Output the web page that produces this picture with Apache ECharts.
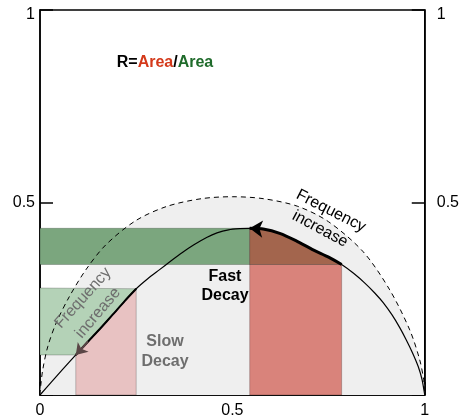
<!DOCTYPE html>
<html>
<head>
<meta charset="utf-8">
<script src="https://cdn.jsdelivr.net/npm/echarts@6/dist/echarts.min.js"></script>
<style>
html, body { margin: 0; padding: 0; background: #fff; }
#main { width: 462px; height: 419px; }
</style>
</head>
<body>
<div id="main"></div>
<script>
// solid curve (g, s)
var phasorCurve = [
    [0, 0], [0.03, 0.034], [0.06, 0.068], [0.093, 0.104], [0.125, 0.139],
    [0.156, 0.172], [0.19, 0.210], [0.22, 0.244], [0.25, 0.276], [0.28, 0.302],
    [0.31, 0.325], [0.34, 0.348], [0.37, 0.370], [0.40, 0.390], [0.433, 0.409],
    [0.46, 0.421], [0.49, 0.429], [0.519, 0.432], [0.545, 0.433], [0.58, 0.431],
    [0.623, 0.420], [0.665, 0.401], [0.71, 0.377], [0.75, 0.358], [0.784, 0.339],
    [0.815, 0.316], [0.845, 0.290], [0.87, 0.265], [0.892, 0.240], [0.915, 0.208],
    [0.935, 0.175], [0.952, 0.143], [0.968, 0.110], [0.983, 0.074], [0.993, 0.040],
    [1, 0]
];
// dashed universal semicircle
var semicircle = [
    [0, 0], [0.002, 0.025], [0.007, 0.065], [0.02, 0.125], [0.042, 0.187],
    [0.076, 0.255], [0.119, 0.325], [0.171, 0.39], [0.249, 0.453], [0.33, 0.49],
    [0.42, 0.51], [0.5, 0.515], [0.58, 0.51], [0.67, 0.49], [0.75, 0.45],
    [0.84, 0.372], [0.909, 0.273], [0.961, 0.169], [0.987, 0.091], [0.997, 0.04],
    [1, 0]
];
// ranges of the boxes
var fastG = [0.545, 0.784];
var fastS = [0.339, 0.433];
var slowG = [0.093, 0.25];
var slowS = [0.104, 0.278];
var xTicks = [0, 0.5, 1];
var yTicks = [0.5, 1];

var font = '"Liberation Sans", Arial, sans-serif';

function between(a, b) {
    return phasorCurve.filter(function(p) { return p[0] >= a && p[0] <= b; });
}
var fastArc = between(fastG[0], fastG[1]);
var slowArc = between(slowG[0], slowG[1]);

var fastRed = [[fastG[0], 0], [fastG[0], fastS[0]], [fastG[1], fastS[0]], [fastG[1], 0]];
var fastBrown = [[fastG[0], fastS[0]]].concat(fastArc);
var fastGreen = [[0, fastS[0]], [0, fastS[1]], [fastG[0], fastS[1]], [fastG[0], fastS[0]]];
var slowPink = [[slowG[0], 0]].concat(slowArc).concat([[slowG[1], 0]]);
var slowGreen = [[0, slowS[0]]].concat(slowArc).concat([[0, slowS[1]]]);

function area(points, color) {
    return {
        type: 'custom',
        coordinateSystem: 'cartesian2d',
        silent: true,
        z: 2,
        data: [[0, 0]],
        renderItem: function(params, api) {
            return {
                type: 'polygon',
                shape: { points: points.map(function(p) { return api.coord(p); }) },
                style: { fill: color, stroke: 'rgba(0,0,0,0.22)', lineWidth: 1 }
            };
        }
    };
}

function arrowHead(pts, color, size) {
    var n = pts.length;
    return {
        type: 'lines',
        coordinateSystem: 'cartesian2d',
        silent: true,
        z: 5,
        symbol: ['none', 'arrow'],
        symbolSize: size,
        lineStyle: { color: color, width: 2, opacity: 1, curveness: 0 },
        data: [{ coords: [pts[n - 2], pts[n - 1]] }]
    };
}

var fastPath = fastArc.slice().reverse();
var slowPath = slowArc.slice().reverse();

var myChart = echarts.init(document.getElementById('main'));

function yLabel(v) {
    if (yTicks.indexOf(v) < 0) return '';
    return v === 1 ? '{top|1}' : String(v);
}

var axisCommon = {
    type: 'value',
    min: 0,
    max: 1,
    interval: 0.5,
    splitLine: { show: false },
    axisLine: { show: true, lineStyle: { color: '#000', width: 1.5 } },
    axisTick: { show: true, inside: true, length: 13, lineStyle: { color: '#000', width: 1.5 } }
};

var option = {
    animation: false,
    grid: { left: 40, right: 37, top: 10, bottom: 24, show: true, borderColor: '#000', borderWidth: 1.5 },
    xAxis: Object.assign({}, axisCommon, {
        axisLabel: {
            color: '#000', fontSize: 16, fontFamily: font, margin: 8,
            formatter: function(v) { return xTicks.indexOf(v) >= 0 ? String(v) : ''; }
        }
    }),
    yAxis: [
        Object.assign({}, axisCommon, {
            position: 'left',
            axisLabel: {
                color: '#000', fontSize: 16, fontFamily: font, margin: 5, formatter: yLabel,
                rich: { top: { fontSize: 16, fontFamily: font, color: '#000', padding: [9, 0, 0, 0] } }
            }
        }),
        Object.assign({}, axisCommon, {
            position: 'right',
            axisLabel: {
                color: '#000', fontSize: 16, fontFamily: font, margin: 12, formatter: yLabel,
                rich: { top: { fontSize: 16, fontFamily: font, color: '#000', padding: [9, 0, 0, 0] } }
            }
        })
    ],
    series: [
        {
            type: 'line', data: semicircle, smooth: 0.3, showSymbol: false, silent: true, z: 1,
            lineStyle: { width: 0, opacity: 0 },
            areaStyle: { color: '#efefef', opacity: 1 }
        },
        area(fastGreen, '#7ba67e'),
        area(fastRed, '#d9837b'),
        area(fastBrown, '#a3654d'),
        area(slowGreen, '#b4d2b7'),
        area(slowPink, '#e8c2c2'),
        {
            type: 'line', data: phasorCurve, smooth: 0.2, showSymbol: false, silent: true, z: 3,
            lineStyle: { color: '#000', width: 1.2 }
        },
        {
            type: 'line', data: fastPath, smooth: 0.2, showSymbol: false, silent: true, z: 4,
            lineStyle: { color: '#000', width: 3 }
        },
        {
            type: 'line', data: slowPath, smooth: 0.2, showSymbol: false, silent: true, z: 4,
            lineStyle: { color: '#000', width: 2 }
        },
        arrowHead(fastPath, '#000', 13),
        arrowHead(slowPath, '#5a4646', 11),
        {
            type: 'line', data: semicircle, smooth: 0.3, showSymbol: false, silent: true, z: 6,
            lineStyle: { color: '#000', width: 1, type: [5, 4] }
        }
    ],
    graphic: [
        {
            type: 'text', x: 165, y: 63, z: 10,
            style: {
                text: '{k|R=}{r|Area}{k|/}{g|Area}',
                align: 'center', verticalAlign: 'middle',
                rich: {
                    k: { fill: '#000', font: 'bold 16px ' + font },
                    r: { fill: '#d4391a', font: 'bold 16px ' + font },
                    g: { fill: '#1f6b2b', font: 'bold 16px ' + font }
                }
            }
        },
        {
            type: 'text', x: 225, y: 286, z: 10,
            style: { text: 'Fast\nDecay', font: 'bold 16px ' + font, fill: '#000', align: 'center', verticalAlign: 'middle', lineHeight: 19 }
        },
        {
            type: 'text', x: 165, y: 352, z: 10,
            style: { text: 'Slow\nDecay', font: 'bold 16px ' + font, fill: '#6e6e6e', align: 'center', verticalAlign: 'middle', lineHeight: 20 }
        },
        {
            type: 'text', x: 331, y: 211, rotation: -0.47, z: 10,
            style: { text: 'Frequency', font: '16px ' + font, fill: '#000', align: 'center', verticalAlign: 'middle' }
        },
        {
            type: 'text', x: 320, y: 229, rotation: -0.49, z: 10,
            style: { text: 'increase', font: '16px ' + font, fill: '#000', align: 'center', verticalAlign: 'middle' }
        },
        {
            type: 'text', x: 83, y: 298, rotation: 0.84, z: 10,
            style: { text: 'Frequency', font: '16px ' + font, fill: '#6e6e6e', align: 'center', verticalAlign: 'middle' }
        },
        {
            type: 'text', x: 98, y: 313, rotation: 0.87, z: 10,
            style: { text: 'increase', font: '16px ' + font, fill: '#6e6e6e', align: 'center', verticalAlign: 'middle' }
        }
    ]
};

myChart.setOption(option);
</script>
</body>
</html>
